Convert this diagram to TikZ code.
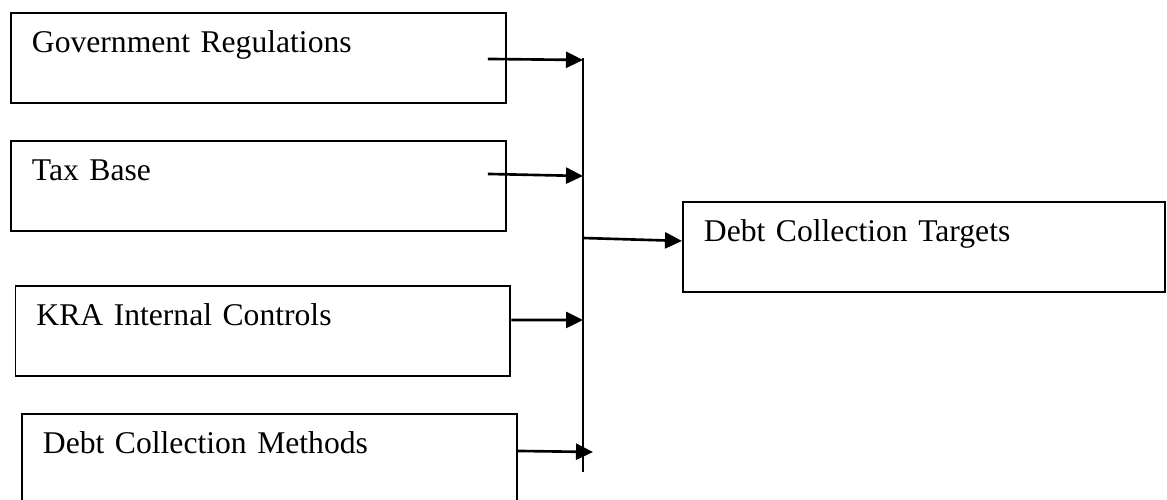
\documentclass[tikz,border=0pt]{standalone}
\usepackage{fontspec}
\setmainfont{Liberation Serif}
\usepackage{tikz}
\usetikzlibrary{positioning,arrows.meta,calc}

\begin{document}
\begin{tikzpicture}[x=0.02cm,y=-0.02cm,
  every node/.style={font=\fontsize{18}{21}\selectfont},
  factor/.style={draw,line width=1.1pt,anchor=north west,align=left,
    inner xsep=0.42cm,inner ysep=0pt,text height=0.8cm,text depth=1cm,text width=#1},
  factor/.default=9.06cm,
  flow/.style={-{Triangle[length=0.34cm,width=0.32cm]},line width=1.5pt},
  bus/.style={line width=1pt}]
\useasboundingbox (0,0) rectangle (1167,500);
\clip (0,0) rectangle (1167,500);
% independent variables
\node[factor] (gov)  at (10,12)   {Government Regulations};
\node[factor] (tax)  at (10,140)  {Tax Base};
\node[factor] (kra)  at (14.5,285){KRA Internal Controls};
\node[factor] (meth) at (21,413)  {Debt Collection Methods};
% dependent variable
\node[factor=8.8cm] (target) at (682,201) {Debt Collection Targets};
% vertical bus
\coordinate (bustop) at (583,58);
\coordinate (busbot) at (583,472);
\draw[bus] (bustop) -- (busbot);
% arrows into the bus
\draw[flow] ($(gov.east)+(-19,1)$)   -- ($(bustop)+(0,2)$);
\draw[flow] ($(tax.east)+(-19,-12)$) -- ($(bustop)+(0,118)$);
\draw[flow] ($(kra.east)+(0,-11)$)   -- ($(bustop)+(0,262)$);
\draw[flow] ($(meth.east)+(0,-8)$)   -- ($(busbot)+(10,-20)$);
% arrow out of the bus
\draw[flow] ($(bustop)+(0,180)$) -- ($(target.west)+(0,-6)$);
\end{tikzpicture}
\end{document}
